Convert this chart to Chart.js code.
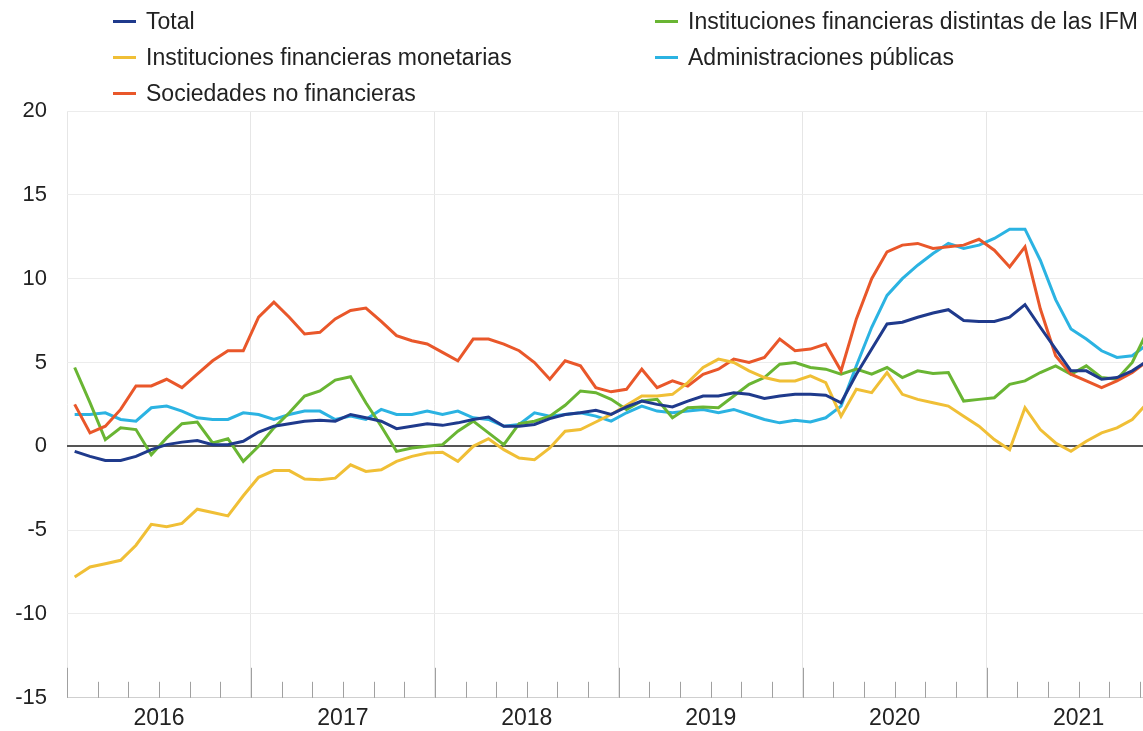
<!DOCTYPE html>
<html>
<head>
<meta charset="utf-8">
<script src="https://cdn.jsdelivr.net/npm/chart.js@4.4.1/dist/chart.umd.min.js"></script>
<style>
  html, body { margin: 0; padding: 0; background: #fff; }
  #wrap { position: relative; width: 1143px; height: 731px; overflow: hidden; }
  #legend {
    position: absolute; left: 113px; top: 3px;
    display: grid; grid-template-columns: 542px auto; grid-template-rows: repeat(3, 36px);
    grid-auto-flow: column;
    font-family: "Liberation Sans", Arial, sans-serif; font-size: 23px; color: #222;
  }
  .item { display: flex; align-items: center; white-space: nowrap; }
  .swatch { width: 23px; height: 3px; margin-right: 10px; }
</style>
</head>
<body>
<div id="wrap">
  <canvas id="chart" width="1143" height="731"></canvas>
  <div id="legend"></div>
</div>
<script>
// monthly, Jan 2016 .. Nov 2021 (index 0 = Jan 2016)
const startYear = 2016;

const total = [-0.3, -0.6, -0.85, -0.85, -0.6, -0.2, 0.1, 0.25, 0.35, 0.1, 0.1, 0.3,
  0.85, 1.2, 1.35, 1.5, 1.55, 1.5, 1.9, 1.7, 1.5, 1.05, 1.2, 1.35,
  1.25, 1.4, 1.6, 1.75, 1.2, 1.2, 1.3, 1.65, 1.9, 2.0, 2.15, 1.9,
  2.35, 2.7, 2.5, 2.35, 2.7, 3.0, 3.0, 3.2, 3.1, 2.85, 3.0, 3.1,
  3.1, 3.05, 2.6, 4.3, 5.8, 7.3, 7.4, 7.7, 7.95, 8.15, 7.5, 7.45,
  7.45, 7.7, 8.45, 7.1, 5.8, 4.5, 4.5, 4.0, 4.1, 4.5, 5.1];

const monetarias = [-7.8, -7.2, -7.0, -6.8, -5.9, -4.65, -4.8, -4.6, -3.75, -3.95, -4.15, -2.95,
  -1.85, -1.45, -1.45, -1.95, -2.0, -1.9, -1.1, -1.5, -1.4, -0.9, -0.6, -0.4,
  -0.35, -0.9, 0.0, 0.45, -0.2, -0.7, -0.8, -0.1, 0.9, 1.0, 1.45, 1.9,
  2.45, 3.0, 3.0, 3.1, 3.8, 4.7, 5.2, 5.0, 4.5, 4.1, 3.9, 3.9,
  4.2, 3.8, 1.8, 3.4, 3.2, 4.4, 3.1, 2.8, 2.6, 2.4, 1.8, 1.2,
  0.4, -0.2, 2.3, 1.0, 0.2, -0.3, 0.3, 0.8, 1.1, 1.6, 2.6];

const sociedades = [2.5, 0.8, 1.2, 2.2, 3.6, 3.6, 4.0, 3.5, 4.3, 5.1, 5.7, 5.7,
  7.7, 8.6, 7.7, 6.7, 6.8, 7.6, 8.1, 8.25, 7.45, 6.6, 6.3, 6.1,
  5.6, 5.1, 6.4, 6.4, 6.1, 5.7, 5.0, 4.0, 5.1, 4.8, 3.5, 3.25,
  3.4, 4.6, 3.5, 3.9, 3.6, 4.3, 4.6, 5.2, 5.0, 5.3, 6.4, 5.7,
  5.8, 6.1, 4.5, 7.6, 10.0, 11.6, 12.0, 12.1, 11.8, 11.9, 12.0, 12.35,
  11.7, 10.7, 11.9, 8.2, 5.4, 4.3, 3.9, 3.5, 3.9, 4.4, 5.1];

const distintas = [4.7, 2.6, 0.4, 1.1, 1.0, -0.5, 0.5, 1.35, 1.45, 0.2, 0.45, -0.9,
  0.0, 1.1, 2.0, 3.0, 3.3, 3.95, 4.15, 2.6, 1.2, -0.3, -0.1, 0.0,
  0.1, 0.9, 1.5, 0.8, 0.1, 1.35, 1.5, 1.8, 2.45, 3.3, 3.2, 2.8,
  2.2, 2.7, 2.8, 1.7, 2.3, 2.35, 2.3, 3.0, 3.7, 4.1, 4.9, 5.0,
  4.7, 4.6, 4.3, 4.6, 4.3, 4.7, 4.1, 4.5, 4.35, 4.4, 2.7, 2.8,
  2.9, 3.7, 3.9, 4.4, 4.8, 4.3, 4.8, 4.1, 4.0, 5.0, 6.9];

const administraciones = [1.9, 1.9, 2.0, 1.6, 1.5, 2.3, 2.4, 2.1, 1.7, 1.6, 1.6, 2.0,
  1.9, 1.6, 1.9, 2.1, 2.1, 1.6, 1.8, 1.6, 2.2, 1.9, 1.9, 2.1,
  1.9, 2.1, 1.7, 1.6, 1.2, 1.3, 2.0, 1.8, 1.9, 2.0, 1.8, 1.5,
  2.0, 2.4, 2.1, 2.0, 2.1, 2.2, 2.0, 2.2, 1.9, 1.6, 1.4, 1.55,
  1.45, 1.7, 2.4, 4.8, 7.1, 9.0, 10.0, 10.8, 11.5, 12.1, 11.8, 12.0,
  12.4, 12.95, 12.95, 11.1, 8.75, 7.0, 6.4, 5.7, 5.3, 5.4, 6.1];

const seriesNames = [
  "Total",
  "Instituciones financieras monetarias",
  "Sociedades no financieras",
  "Instituciones financieras distintas de las IFM",
  "Administraciones públicas",
];
const seriesValues = [total, monetarias, sociedades, distintas, administraciones];
const seriesColors = ["#1f3a8c", "#f0bf36", "#e9572a", "#69b533", "#2bb3e2"];

const yTicks = [-15, -10, -5, 0, 5, 10, 15, 20];
const xMax = 70.2; // months shown (chart is cut at the right)

const FONT = "'Liberation Sans', Arial, sans-serif";

// tick marks drawn inward from the bottom axis, every two months
const innerTicks = {
  id: "innerTicks",
  beforeDatasetsDraw(chart) {
    const x = chart.scales.x;
    const y = chart.scales.y;
    const base = y.getPixelForValue(y.min);
    const ctx = chart.ctx;
    ctx.save();
    ctx.strokeStyle = "#a0a0a0";
    ctx.lineWidth = 1;
    for (let m = 0; m <= xMax; m += 2) {
      const px = Math.round(x.getPixelForValue(m)) + 0.5;
      const len = m % 12 === 0 ? 30 : 16;
      ctx.beginPath();
      ctx.moveTo(px, base);
      ctx.lineTo(px, base - len);
      ctx.stroke();
    }
    ctx.restore();
  },
};

const datasets = seriesNames.map((name, k) => ({
  label: name,
  data: seriesValues[k].map((v, i) => ({ x: i + 0.5, y: v })),
  borderColor: seriesColors[k],
  backgroundColor: seriesColors[k],
  borderWidth: 3,
  pointRadius: 0,
  tension: 0,
}));

const ctx = document.getElementById("chart").getContext("2d");
new Chart(ctx, {
  type: "line",
  data: { datasets },
  plugins: [innerTicks],
  options: {
    responsive: false,
    animation: false,
    layout: { padding: { top: 111, right: 0, bottom: 0, left: 0 } },
    plugins: { legend: { display: false }, tooltip: { enabled: false } },
    scales: {
      x: {
        type: "linear",
        min: 0,
        max: xMax,
        // year boundaries (grid) and mid-year (labels)
        afterBuildTicks: (scale) => {
          const t = [];
          for (let m = 0; m <= 66; m += 6) t.push({ value: m });
          scale.ticks = t;
        },
        afterFit: (scale) => { scale.height = 32; },
        ticks: {
          autoSkip: false,
          maxRotation: 0,
          padding: 7,
          color: "#222",
          font: { family: FONT, size: 23 },
          callback: (v) => (v % 12 === 6 ? String(startYear + (v - 6) / 12) : ""),
        },
        grid: {
          drawTicks: false,
          color: (c) => (c.tick && c.tick.value % 12 === 0 ? "#e6e6e6" : "rgba(0,0,0,0)"),
          lineWidth: 1,
        },
        border: { display: false },
      },
      y: {
        min: -15,
        max: 20,
        afterBuildTicks: (scale) => { scale.ticks = yTicks.map((v) => ({ value: v })); },
        afterFit: (scale) => { scale.width = 67; },
        ticks: {
          padding: 20,
          color: "#222",
          font: { family: FONT, size: 22 },
        },
        grid: {
          drawTicks: false,
          color: (c) => {
            const v = c.tick ? c.tick.value : null;
            if (v === 0) return "#555";
            if (v === -15) return "#cfcfcf";
            return "#ececec";
          },
          lineWidth: (c) => (c.tick && c.tick.value === 0 ? 2 : 1),
        },
        border: { display: false },
      },
    },
  },
});

// legend: three rows, filled column by column
const legend = document.getElementById("legend");
seriesNames.forEach((name, k) => {
  const item = document.createElement("div");
  item.className = "item";
  item.innerHTML = `<span class="swatch" style="background:${seriesColors[k]}"></span>${name}`;
  legend.appendChild(item);
});
</script>
</body>
</html>
